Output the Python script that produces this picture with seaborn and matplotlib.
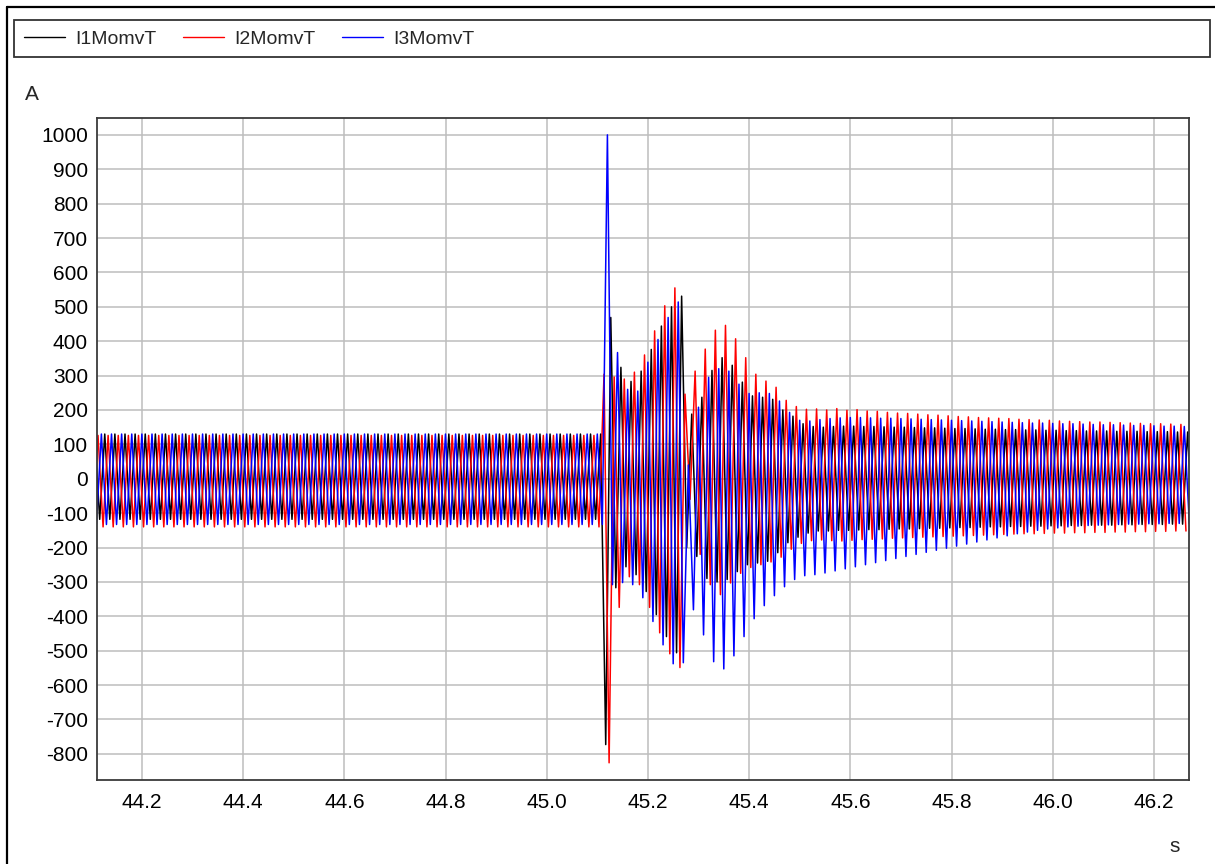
import numpy as np
import pandas as pd
import matplotlib
matplotlib.use("Agg")
import matplotlib.pyplot as plt
from matplotlib.lines import Line2D
from matplotlib.patches import Rectangle
import seaborn as sns

# Three phase currents (A) recorded around a disturbance on a 50 Hz feeder.
series_names = ["I1MomvT", "I2MomvT", "I3MomvT"]
series_colors = ["#000000", "#ff0000", "#0000ff"]

CYCLE = 0.02               # s, one mains period
I2_FIRST_CREST = 45.113    # s, first crest of I2 after the disturbance
crest_lag = [2 / 3, 0.0, 1 / 3]   # crest delay of each phase in cycles, relative to I2
PRE_CYCLES = 51            # cycles recorded before the disturbance

# steady crest / trough values before the disturbance
i1_pre_top, i1_pre_bottom = 130, -118
i2_pre_top, i2_pre_bottom = 126, -140
i3_pre_top, i3_pre_bottom = 130, -133
i1_onset_bottom = -773     # I1 trough right at the onset

# crest and trough of every cycle after the disturbance
i1_post_top = [469, 324, 283, 313, 376, 444, 500, 531, 188, 237, 315, 352, 330, 281, 241,
               237, 231, 200, 182, 160, 152,
               150, 152, 153, 153, 152, 152, 151, 150, 150, 149, 148, 148, 147, 146, 146,
               145, 144, 144, 143, 143, 142, 142, 141, 141, 140, 140, 139, 139, 139, 138,
               138, 138, 137, 137, 137, 136, 136]
i1_post_bottom = [-317, -256, -279, -328, -395, -459, -506, -200, -226, -290, -300, -293,
                  -270, -250, -245, -240, -215, -186, -170, -158, -152,
                  -152, -150, -150, -149, -148, -148, -147, -146, -146, -145, -144, -144,
                  -143, -142, -142, -141, -140, -140, -139, -139, -138, -138, -137, -137,
                  -136, -136, -135, -135, -135, -134, -134, -133, -133, -133, -132, -132, -132]

i2_post_top = [304, 296, 290, 310, 360, 430, 503, 555, 246, 313, 377, 432, 446, 407, 352,
               304, 284, 266, 228, 210, 202,
               203, 200, 204, 199, 201, 197, 196, 193, 191, 190, 188, 186, 185, 183, 181,
               180, 178, 177, 176, 175, 173, 172, 171, 170, 168, 167, 166, 165, 165, 164,
               163, 162, 161, 160, 160, 159, 158]
i2_post_bottom = [-826, -374, -285, -308, -374, -448, -509, -549, -60, -220, -308, -337,
                  -303, -275, -258, -250, -242, -228, -205, -188, -180,
                  -178, -180, -181, -179, -177, -176, -175, -173, -172, -171, -170, -169,
                  -168, -167, -166, -165, -164, -163, -162, -161, -160, -160, -159, -158,
                  -158, -157, -157, -156, -156, -155, -155, -154, -154, -153, -153, -152, -152]

i3_post_top = [1000, 367, 260, 255, 339, 405, 469, 514, 40, 208, 295, 320, 313, 275, 248,
               250, 248, 226, 193, 170, 168,
               172, 175, 177, 178, 178, 177, 176, 176, 175, 174, 173, 172, 171, 170, 169,
               168, 167, 166, 165, 164, 163, 162, 162, 161, 160, 160, 159, 158, 157, 157,
               156, 155, 155, 154, 153, 153, 152]
i3_post_bottom = [-308, -302, -308, -346, -415, -483, -538, -535, -381, -454, -532, -553,
                  -515, -459, -407, -369, -340, -314, -293, -282, -279,
                  -274, -268, -262, -256, -250, -244, -238, -232, -226, -220, -214, -208,
                  -202, -196, -190, -184, -178, -172, -166, -160, -155, -150, -146, -143,
                  -140, -138, -136, -135, -134, -133, -132, -132, -131, -131, -130, -130, -130]

x_ticks = [44.2, 44.4, 44.6, 44.8, 45.0, 45.2, 45.4, 45.6, 45.8, 46.0, 46.2]
y_ticks = list(range(-800, 1001, 100))
x_range = (44.111, 46.269)
y_range = (-876, 1049)


def phase_frame(name, lag, pre_top, pre_bottom, post_top, post_bottom, onset_bottom=None):
    tops = [pre_top] * PRE_CYCLES + list(post_top)
    bottoms = [pre_bottom] * PRE_CYCLES + list(post_bottom)
    if onset_bottom is not None:
        bottoms[PRE_CYCLES - 1] = onset_bottom
    k = np.arange(-PRE_CYCLES, len(post_top))
    t_top = I2_FIRST_CREST + (k + lag) * CYCLE
    t_bottom = t_top + CYCLE / 2
    t = np.column_stack([t_top, t_bottom]).ravel()
    v = np.column_stack([tops, bottoms]).ravel()
    return pd.DataFrame({"time": t, "current": v, "phase": name})


df = pd.concat([
    phase_frame(series_names[0], crest_lag[0], i1_pre_top, i1_pre_bottom,
                i1_post_top, i1_post_bottom, i1_onset_bottom),
    phase_frame(series_names[1], crest_lag[1], i2_pre_top, i2_pre_bottom,
                i2_post_top, i2_post_bottom),
    phase_frame(series_names[2], crest_lag[2], i3_pre_top, i3_pre_bottom,
                i3_post_top, i3_post_bottom),
], ignore_index=True)

sns.set_theme(style="white")
plt.rcParams["font.family"] = ["Liberation Sans", "DejaVu Sans"]
plt.rcParams["axes.unicode_minus"] = False

W, H = 1215, 864
fig = plt.figure(figsize=(W / 100, H / 100), dpi=100)
ax = fig.add_axes([97 / W, 1 - 780 / H, (1189 - 97) / W, (780 - 118) / H])

sns.lineplot(data=df, x="time", y="current", hue="phase", hue_order=series_names,
             palette=series_colors, estimator=None, sort=False, linewidth=1.1,
             legend=False, ax=ax)

ax.set_xlim(*x_range)
ax.set_ylim(*y_range)
ax.set_xticks(x_ticks)
ax.set_xticklabels([f"{v:.1f}" for v in x_ticks])
ax.set_yticks(y_ticks)
ax.set_xlabel("")
ax.set_ylabel("")
ax.grid(True, color="#bdbdbd", linewidth=1.1)
ax.set_axisbelow(True)
ax.tick_params(axis="both", length=0, labelsize=15, colors="black")
ax.tick_params(axis="x", pad=9.5)
ax.tick_params(axis="y", pad=6.5)
for sp in ax.spines.values():
    sp.set_color("#3a3a3a")
    sp.set_linewidth(1.3)

# outer frame (left and top edges)
fig.add_artist(Line2D([7 / W, 7 / W], [0, 1 - 7 / H], transform=fig.transFigure,
                      color="black", lw=1.6))
fig.add_artist(Line2D([7 / W, 1], [1 - 7 / H, 1 - 7 / H], transform=fig.transFigure,
                      color="black", lw=1.6))

# legend strip across the top
fig.add_artist(Rectangle((14 / W, 1 - 57 / H), (1210 - 14) / W, 37 / H,
                         transform=fig.transFigure, fill=False,
                         edgecolor="#333333", lw=1.3))
handles = [Line2D([], [], color=c, lw=1.0) for c in series_colors]
fig.legend(handles, series_names, loc="center left",
           bbox_to_anchor=(24 / W, 1 - 39 / H), frameon=False, ncol=3,
           fontsize=14, handlelength=2.1, handletextpad=0.55, columnspacing=1.35,
           borderpad=0, borderaxespad=0)

fig.text(32 / W, 1 - 94 / H, "A", ha="center", va="center", fontsize=15)
fig.text(1175 / W, 1 - 846 / H, "s", ha="center", va="center", fontsize=15)

fig.savefig("out.png", dpi=100)
